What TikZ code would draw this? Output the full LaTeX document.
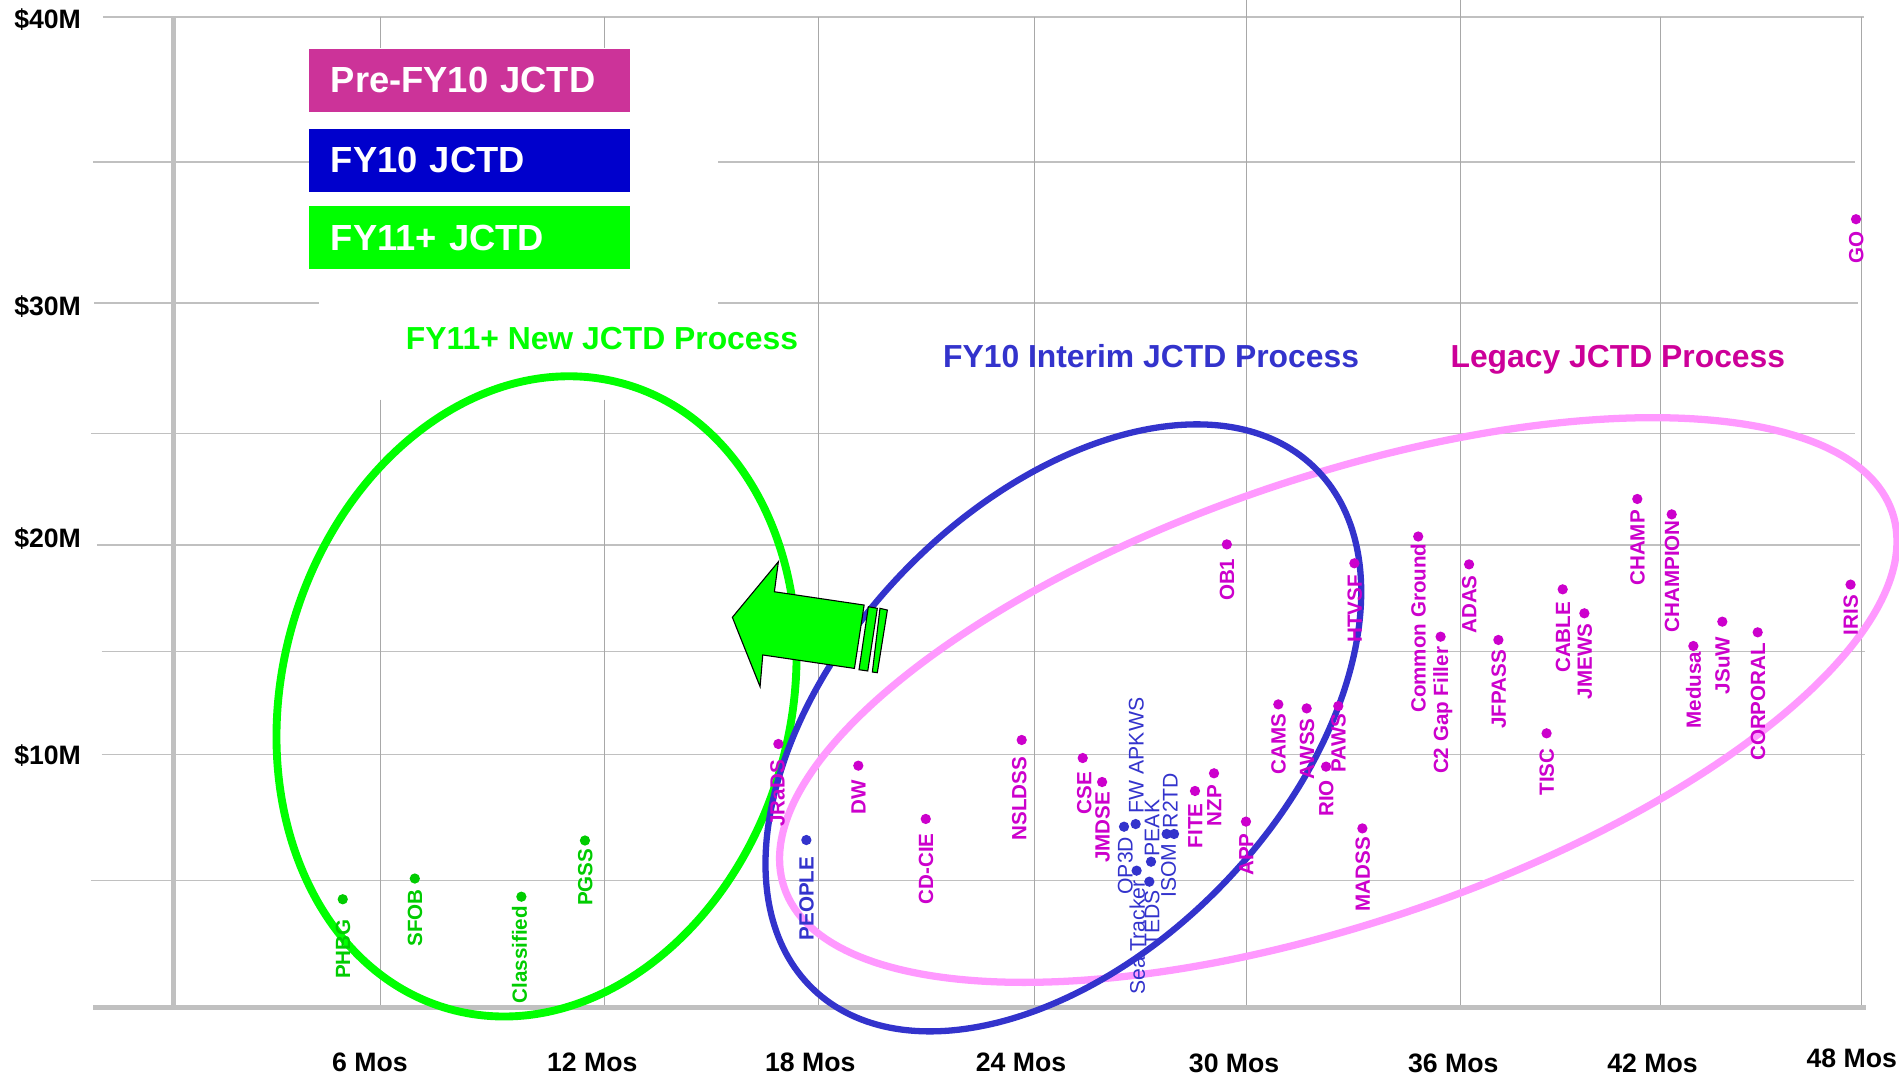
\documentclass[tikz,border=0pt]{standalone}
\usepackage{fontspec}
\setmainfont{Liberation Sans}
\usetikzlibrary{calc}

\definecolor{gridh}{HTML}{C0C0C0}
\definecolor{gridv}{HTML}{A8A8A8}
\definecolor{lgreen}{HTML}{00FF00}
\definecolor{dgreen}{HTML}{00CC00}
\definecolor{iblue}{HTML}{3333CC}
\definecolor{lpink}{HTML}{FF99FF}
\definecolor{mag}{HTML}{CC00CC}
\definecolor{legacy}{HTML}{CC0099}
\definecolor{boxpink}{HTML}{CC3399}
\definecolor{boxblue}{HTML}{0000CC}

\tikzset{
  hgrid/.style={draw=gridh, line width=1.3},
  vgrid/.style={draw=gridv, line width=0.8},
  axisline/.style={draw=gridh, line width=4.6},
  ylab/.style={font=\bfseries\fontsize{22}{22}\selectfont, anchor=east, inner sep=0},
  xlab/.style={font=\bfseries\fontsize{22}{22}\selectfont, inner sep=0},
  legbox/.style={anchor=north west, minimum width=265, minimum height=52,
    inner xsep=18, inner ysep=0, text width=229, align=left, text=white,
    font=\bfseries\fontsize{30}{30}\selectfont},
  ptitle/.style={anchor=base west, inner sep=0, font=\bfseries\fontsize{26.3}{26.3}\selectfont},
  mdot/.style={circle, fill=mag, inner sep=0, minimum size=8.5},
  gdot/.style={circle, fill=dgreen, inner sep=0, minimum size=8.5},
  bdot/.style={circle, fill=iblue, inner sep=0, minimum size=8.5},
  mlab/.style={text=mag, rotate=90, anchor=base east, inner sep=0,
    font=\bfseries\fontsize{17}{17}\selectfont},
  glab/.style={mlab, text=dgreen},
  blab/.style={mlab, text=iblue},
  clab/.style={text=iblue, rotate=90, anchor=base east, inner sep=0,
    font=\fontsize{17.5}{17.5}\selectfont},
  clabup/.style={clab, anchor=base west},
  process/.style={line width=6.5},
  arrowpart/.style={fill=lgreen, draw=black, line width=0.9, line join=miter}
}

\begin{document}
\begin{tikzpicture}[x=1pt,y=-1pt]
\useasboundingbox (0,0) rectangle (1568,888);

% horizontal grid lines
\draw[hgrid] (85,14) -- (1539,14);
\draw[hgrid] (77,134) -- (255,134);
\draw[hgrid] (593,134) -- (1532,134);
\draw[hgrid] (78,250) -- (263,250);
\draw[hgrid] (593,250) -- (1534,250);
\draw[hgrid] (75,358) -- (1532,358);
\draw[hgrid] (80,450) -- (1536,450);
\draw[hgrid] (84,538) -- (1540,538);
\draw[hgrid] (84,623) -- (1540,623);
\draw[hgrid] (75,727) -- (1531,727);

% vertical grid lines
\draw[vgrid] (314,14) -- (314,40);
\draw[vgrid] (314,330) -- (314,832);
\draw[vgrid] (499.5,14) -- (499.5,40);
\draw[vgrid] (499.5,330) -- (499.5,832);
\draw[vgrid] (676,14) -- (676,832);
\draw[vgrid] (854,14) -- (854,832);
\draw[vgrid] (1029.5,0) -- (1029.5,832);
\draw[vgrid] (1206,0) -- (1206,832);
\draw[vgrid] (1371,14) -- (1371,832);
\draw[vgrid] (1537,14) -- (1537,832);

% axes
\draw[axisline, line width=4] (143,14) -- (143,832);
\draw[axisline] (77,832) -- (1541,832);

% axis labels
\node[ylab] (y40) at (67,16) {\$40M};
\node[ylab] (y30) at (67,253) {\$30M};
\node[ylab] (y20) at (67,445) {\$20M};
\node[ylab] (y10) at (67,624) {\$10M};
\node[xlab] (x6)  at (305.5,877) {6 Mos};
\node[xlab] (x12) at (489,877) {12 Mos};
\node[xlab] (x18) at (669,877) {18 Mos};
\node[xlab] (x24) at (843,877) {24 Mos};
\node[xlab] (x30) at (1019,878) {30 Mos};
\node[xlab] (x36) at (1200,878) {36 Mos};
\node[xlab] (x42) at (1364.5,878) {42 Mos};
\node[xlab] (x48) at (1529,874) {48 Mos};

% process groupings
\draw[process, lpink, line width=6] [rotate around={18.7:(1105,578)}] (1105,578) ellipse [x radius=483, y radius=184];
\draw[process, lgreen] [rotate around={74.5:(443,575)}] (443,575) ellipse [x radius=268, y radius=210];
\draw[process, iblue, line width=5.2] [rotate around={46.2:(878,601)}] (878,601) ellipse [x radius=298.7, y radius=184.5];

% striped block arrow
\draw[arrowpart] (604.7,509.7) -- (642.7,463.8) -- (639.4,488.6) -- (713.5,499.6)
  -- (705.5,551.9) -- (629.8,540.8) -- (627.6,567) -- cycle;
\draw[arrowpart] (717,501) -- (724.4,502.3) -- (716.5,554) -- (709.3,553) -- cycle;
\draw[arrowpart] (726.6,502.3) -- (732.7,503.7) -- (724.4,555.4) -- (720.3,554.9) -- cycle;

% FY11+ projects
\node[gdot] (d-phbg) at (283,742.5) {};
\node[glab] (l-phbg) at ([shift={(6.1,16.5)}]d-phbg) {PHBG};
\node[gdot] (d-sfob) at (342.5,725.4) {};
\node[glab] (l-sfob) at ([shift={(6.1,8.6)}]d-sfob) {SFOB};
\node[gdot] (d-class) at (430.5,740.4) {};
\node[glab] (l-class) at ([shift={(4.5,7.6)}]d-class) {Classified};
\node[gdot] (d-pgss) at (483,694) {};
\node[glab] (l-pgss) at ([shift={(6.1,6.6)}]d-pgss) {PGSS};

% FY10 projects
\node[bdot] (d-people) at (665.8,693.6) {};
\node[blab] (l-people) at ([shift={(6.1,13.7)}]d-people) {PEOPLE};
\node[bdot] (d-op3d) at (928.1,682.6) {};
\node[clab] (l-op3d) at ([shift={(7.1,8.2)}]d-op3d) {OP3D};
\node[bdot] (d-fw) at (937.7,680.4) {};
\node[clabup] (l-fw) at ([shift={(6.6,-8.8)}]d-fw) {FW APKWS};
\node[bdot] (d-sea) at (938.5,718.9) {};
\node[clab] (l-sea) at ([shift={(6.9,7.7)}]d-sea) {Sea Tracker};
\node[bdot] (d-teds) at (949,728) {};
\node[clab] (l-teds) at ([shift={(8.3,6.9)}]d-teds) {TEDS};
\node[bdot] (d-peak) at (950.4,711.5) {};
\node[clabup] (l-peak) at ([shift={(6.9,-4.2)}]d-peak) {PEAK};
\node[bdot] (d-isom) at (963.3,688.6) {};
\node[clab] (l-isom) at ([shift={(7.7,7.7)}]d-isom) {ISOM};
\node[bdot] (d-r2td) at (969.4,688.6) {};
\node[clabup] (l-r2td) at ([shift={(2.9,-4.6)}]d-r2td) {R2TD};

% Pre-FY10 projects
\node[mdot] (d-jrads) at (642.7,614.3) {};
\node[mlab] (l-jrads) at ([shift={(5.1,13.2)}]d-jrads) {JRaDS};
\node[mdot] (d-dw) at (708.7,632.2) {};
\node[mlab] (l-dw) at ([shift={(6.1,11.8)}]d-dw) {DW};
\node[mdot] (d-cdcie) at (764.4,676.2) {};
\node[mlab] (l-cdcie) at ([shift={(6.1,11.8)}]d-cdcie) {CD-CIE};
\node[mdot] (d-nsldss) at (843.6,611) {};
\node[mlab] (l-nsldss) at ([shift={(3.8,13.8)}]d-nsldss) {NSLDSS};
\node[mdot] (d-cse) at (894,625.9) {};
\node[mlab] (l-cse) at ([shift={(7.1,11.1)}]d-cse) {CSE};
\node[mdot] (d-jmdse) at (910,645.7) {};
\node[mlab] (l-jmdse) at ([shift={(6.1,8)}]d-jmdse) {JMDSE};
\node[mdot] (d-ob1) at (1013,449.5) {};
\node[mlab] (l-ob1) at ([shift={(6.1,11.5)}]d-ob1) {OB1};
\node[mdot] (d-fite) at (986.7,653.1) {};
\node[mlab] (l-fite) at ([shift={(6.1,10.2)}]d-fite) {FITE};
\node[mdot] (d-nzp) at (1002.4,638.5) {};
\node[mlab] (l-nzp) at ([shift={(6.1,9.5)}]d-nzp) {NZP};
\node[mdot] (d-app) at (1028.8,678.4) {};
\node[mlab] (l-app) at ([shift={(6.1,9.6)}]d-app) {APP};
\node[mdot] (d-cams) at (1055.5,581.6) {};
\node[mlab] (l-cams) at ([shift={(6.1,7.4)}]d-cams) {CAMS};
\node[mdot] (d-awss) at (1078.9,584.9) {};
\node[mlab] (l-awss) at ([shift={(6.1,8.1)}]d-awss) {AWSS};
\node[mdot] (d-rio) at (1094.9,633) {};
\node[mlab] (l-rio) at ([shift={(6.1,11)}]d-rio) {RIO};
\node[mdot] (d-paws) at (1105,583) {};
\node[mlab] (l-paws) at ([shift={(6.1,6)}]d-paws) {PAWS};
\node[mdot] (d-htvsf) at (1118.3,465.1) {};
\node[mlab] (l-htvsf) at ([shift={(6.1,9.7)}]d-htvsf) {HTVSF};
\node[mdot] (d-madss) at (1124.9,684) {};
\node[mlab] (l-madss) at ([shift={(6.1,6.8)}]d-madss) {MADSS};
\node[mdot] (d-cg) at (1171,443) {};
\node[mlab] (l-cg) at ([shift={(6.1,5.6)}]d-cg) {Common Ground};
\node[mdot] (d-c2) at (1189.5,525.7) {};
\node[mlab] (l-c2) at ([shift={(6.1,8.3)}]d-c2) {C2 Gap Filler};
\node[mdot] (d-adas) at (1213,466) {};
\node[mlab] (l-adas) at ([shift={(6.1,8.8)}]d-adas) {ADAS};
\node[mdot] (d-jfpass) at (1237.2,528.4) {};
\node[mlab] (l-jfpass) at ([shift={(6.1,8.3)}]d-jfpass) {JFPASS};
\node[mdot] (d-tisc) at (1277,605.5) {};
\node[mlab] (l-tisc) at ([shift={(6.1,12.4)}]d-tisc) {TISC};
\node[mdot] (d-cable) at (1290.3,486.6) {};
\node[mlab] (l-cable) at ([shift={(6.1,10.2)}]d-cable) {CABLE};
\node[mdot] (d-jmews) at (1308.2,506.4) {};
\node[mlab] (l-jmews) at ([shift={(6.1,8.3)}]d-jmews) {JMEWS};
\node[mdot] (d-champ) at (1351.9,412) {};
\node[mlab] (l-champ) at ([shift={(6.1,9)}]d-champ) {CHAMP};
\node[mdot] (d-champion) at (1380.3,424.7) {};
\node[mlab] (l-champion) at ([shift={(6.1,4.7)}]d-champion) {CHAMPION};
\node[mdot] (d-medusa) at (1398.2,533.4) {};
\node[mlab] (l-medusa) at ([shift={(6.1,4.6)}]d-medusa) {Medusa};
\node[mdot] (d-jsuw) at (1422.1,513.3) {};
\node[mlab] (l-jsuw) at ([shift={(6.1,12.4)}]d-jsuw) {JSuW};
\node[mdot] (d-corporal) at (1451.3,522.1) {};
\node[mlab] (l-corporal) at ([shift={(6.1,8.6)}]d-corporal) {CORPORAL};
\node[mdot] (d-iris) at (1528,482.7) {};
\node[mlab] (l-iris) at ([shift={(6.1,8.6)}]d-iris) {IRIS};
\node[mdot] (d-go) at (1532.5,181) {};
\node[mlab] (l-go) at ([shift={(6.1,10.3)}]d-go) {GO};

% legend
\node[legbox, fill=boxpink] (leg-pre) at (255,40) {Pre-FY10 JCTD};
\node[legbox, fill=boxblue] (leg-fy10) at (255,106) {FY10 JCTD};
\node[legbox, fill=lgreen] (leg-fy11) at (255,170) {FY11+ JCTD};

% process titles
\node[ptitle, text=lgreen] (t-new) at (335,288.4) {FY11+ New JCTD Process};
\node[ptitle, text=iblue] (t-interim) at (778.5,303.3) {FY10 Interim JCTD Process};
\node[ptitle, text=legacy] (t-legacy) at (1197.5,303.3) {Legacy JCTD Process};
\end{tikzpicture}
\end{document}
